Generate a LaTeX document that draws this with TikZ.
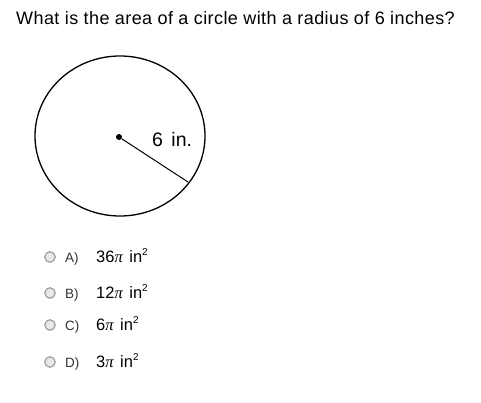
\documentclass[tikz,border=0pt]{standalone}
\usepackage{fontspec}
\setmainfont{Liberation Sans}
\newfontfamily\serifpi{Liberation Serif}
\newcommand{\pisym}{{\serifpi\itshape π}}
\newcommand{\sqsup}{\raisebox{0.42em}{\fontsize{10}{10}\selectfont 2}}
\definecolor{labgray}{HTML}{333333}
\begin{document}
\begin{tikzpicture}[x=1pt,y=-1pt,
  radio/.style={circle,draw=gray!75,fill=gray!18,line width=1.2pt,minimum size=10.5pt,inner sep=0pt},
  lab/.style={anchor=base west,font=\fontsize{13.5}{15}\selectfont,text=labgray,inner sep=0pt},
  val/.style={anchor=base west,font=\fontsize{16.5}{18}\selectfont,inner sep=0pt}]
\useasboundingbox (0,0) rectangle (481,403);
\fill[white] (0,0) rectangle (481,403);
\node[anchor=base west,inner sep=0pt,font=\fontsize{18}{20}\selectfont\addfontfeatures{LetterSpace=2.3}] (title) at (16,25) {What is the area of a circle with a radius of 6 inches?};
\draw[line width=1.3pt] (120,136) ellipse [x radius=85, y radius=80];
\node[circle,fill=black,inner sep=0pt,minimum size=6pt] (c) at (119,137) {};
\coordinate (e) at (188,182);
\draw[line width=1pt] (c) -- (e);
\node[anchor=base west,inner sep=0pt,font=\fontsize{19.5}{21}\selectfont] (r) at (152,147) {6\hspace{3pt} in.};
\foreach \y/\l/\v [count=\i] in {262/A)/36, 298/B)/12, 330/C)/6, 367/D)/3} {
  \node[radio] (rb\i) at (50,\y-5) {};
  \node[lab] (l\i) at (65,\y) {\l};
  \node[val] (v\i) at (96,\y) {\v\pisym\hspace{2pt} in\sqsup};
}
\end{tikzpicture}
\end{document}
